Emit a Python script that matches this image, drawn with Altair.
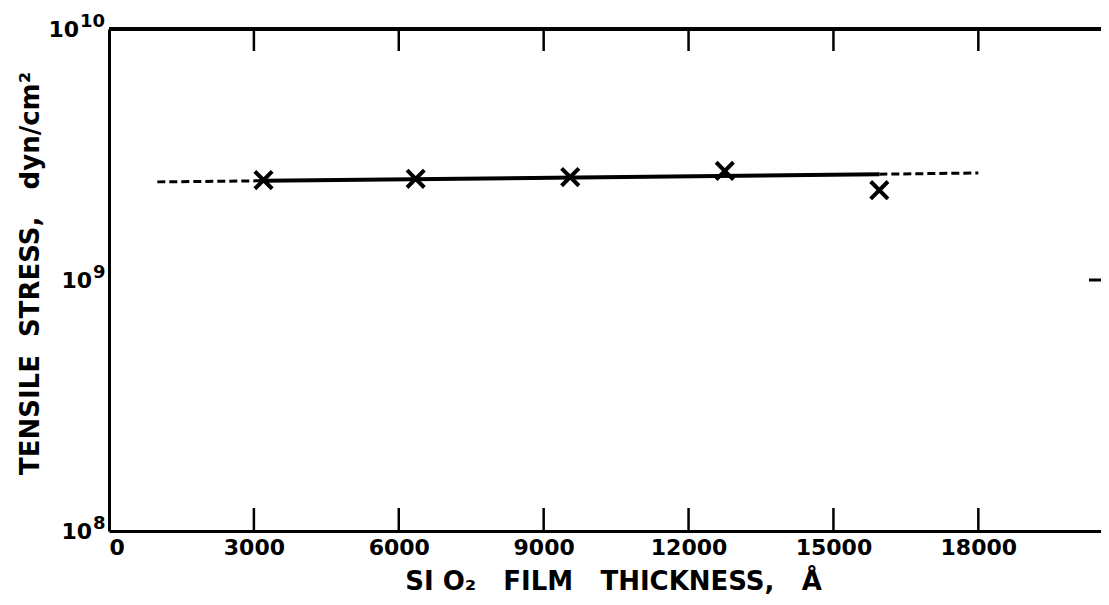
import altair as alt
import pandas as pd

# ---- data ----
thickness = [3200, 6350, 9550, 12750, 15950]          # Å
stress = [2.50e9, 2.53e9, 2.57e9, 2.72e9, 2.28e9]      # dyn/cm^2

fit_x = [1000, 3200, 15950, 18000]
fit_y = [2.46e9, 2.485e9, 2.64e9, 2.67e9]

x_tick_values = [3000, 6000, 9000, 12000, 15000, 18000]
x_label_values = [0, 3000, 6000, 9000, 12000, 15000, 18000]
y_label_values = [1e8, 1e9, 1e10]
y_label_base = ["10", "10", "10"]
y_label_exp = ["8", "9", "10"]
right_tick_values = [1e9]

W, H = 992, 502
X_MAX = 20540
FONT = "DejaVu Sans"
NB = "\u00a0"

pts = pd.DataFrame({"x": thickness, "y": stress})
solid = pd.DataFrame({"x": fit_x[1:3], "y": fit_y[1:3]})
dashed = pd.DataFrame({
    "x": [fit_x[0], fit_x[1], fit_x[2], fit_x[3]],
    "y": [fit_y[0], fit_y[1], fit_y[2], fit_y[3]],
    "seg": ["a", "a", "b", "b"],
})
xt = pd.DataFrame({"x": x_tick_values})
rt = pd.DataFrame({"y": right_tick_values})
ylab = pd.DataFrame({"y": y_label_values, "base": y_label_base, "exp": y_label_exp})

xscale = alt.Scale(domain=[0, X_MAX], nice=False, zero=False)
yscale = alt.Scale(type="log", domain=[1e8, 1e10], nice=False)

xaxis = alt.Axis(
    values=x_label_values, format="d", ticks=False, grid=False,
    domainColor="black", domainWidth=3,
    labelFont=FONT, labelFontWeight="bold", labelFontSize=22, labelColor="black",
    labelPadding=6,
    title=f"SI{NB}O₂{NB*3}FILM{NB*3}THICKNESS,{NB*3}Å", titleFont=FONT,
    titleFontWeight="bold", titleFontSize=26, titleColor="black",
    titlePadding=10, titleX=504,
)
yaxis = alt.Axis(
    values=y_label_values, labels=False, ticks=False, grid=False,
    domainColor="black", domainWidth=3,
    title=f"TENSILE{NB*2}STRESS,{NB*3}dyn/cm²", titleFont=FONT,
    titleFontWeight="bold", titleFontSize=26, titleColor="black",
    titleX=-66, titleY=244,
)

X = alt.X("x:Q", scale=xscale, axis=xaxis)
Y = alt.Y("y:Q", scale=yscale, axis=yaxis)

base_pts = alt.Chart(pts).mark_point(
    shape="M-1,-1L1,1M-1,1L1,-1", filled=False, size=300,
    strokeWidth=4, color="black", opacity=1,
).encode(x=X, y=Y)

solid_line = alt.Chart(solid).mark_line(color="black", strokeWidth=4).encode(x=X, y=Y)

dashed_line = alt.Chart(dashed).mark_line(
    color="black", strokeWidth=3, strokeDash=[8, 4]
).encode(x=X, y=Y, detail="seg:N")

bottom_ticks = alt.Chart(xt).mark_rule(color="black", strokeWidth=2.5).encode(
    x=X, y=alt.value(H), y2=alt.value(H - 23),
)
top_ticks = alt.Chart(xt).mark_rule(color="black", strokeWidth=2.5).encode(
    x=X, y=alt.value(0), y2=alt.value(22),
)
top_border = alt.Chart(xt).mark_rule(color="black", strokeWidth=3).encode(
    x=alt.value(0), x2=alt.value(W), y=alt.value(0),
)
right_tick = alt.Chart(rt).mark_rule(color="black", strokeWidth=3).encode(
    y=Y, x=alt.value(W - 12), x2=alt.value(W),
)

# y tick labels: "10" with a raised exponent
lab_common = dict(font=FONT, fontWeight="bold", color="black", baseline="middle")
short = alt.Chart(ylab).transform_filter("length(datum.exp) == 1")
long_ = alt.Chart(ylab).transform_filter("length(datum.exp) == 2")
lab_layers = []
for src, anchor in ((short, -17), (long_, -30)):
    lab_layers.append(src.mark_text(align="right", fontSize=22, dy=1, **lab_common).encode(
        y=Y, x=alt.value(anchor), text="base:N"))
    lab_layers.append(src.mark_text(align="left", fontSize=18, dy=-7, **lab_common).encode(
        y=Y, x=alt.value(anchor + 1), text="exp:N"))

chart = alt.layer(
    base_pts, solid_line, dashed_line, bottom_ticks, top_ticks, top_border, right_tick,
    *lab_layers,
).properties(
    width=W, height=H,
    autosize=alt.AutoSizeParams(type="none"),
    padding={"left": 101, "top": 21, "right": 0, "bottom": 66},
    background="white",
).configure_view(stroke=None)

chart.save("out.html", embed_options={"renderer": "svg", "actions": False})
